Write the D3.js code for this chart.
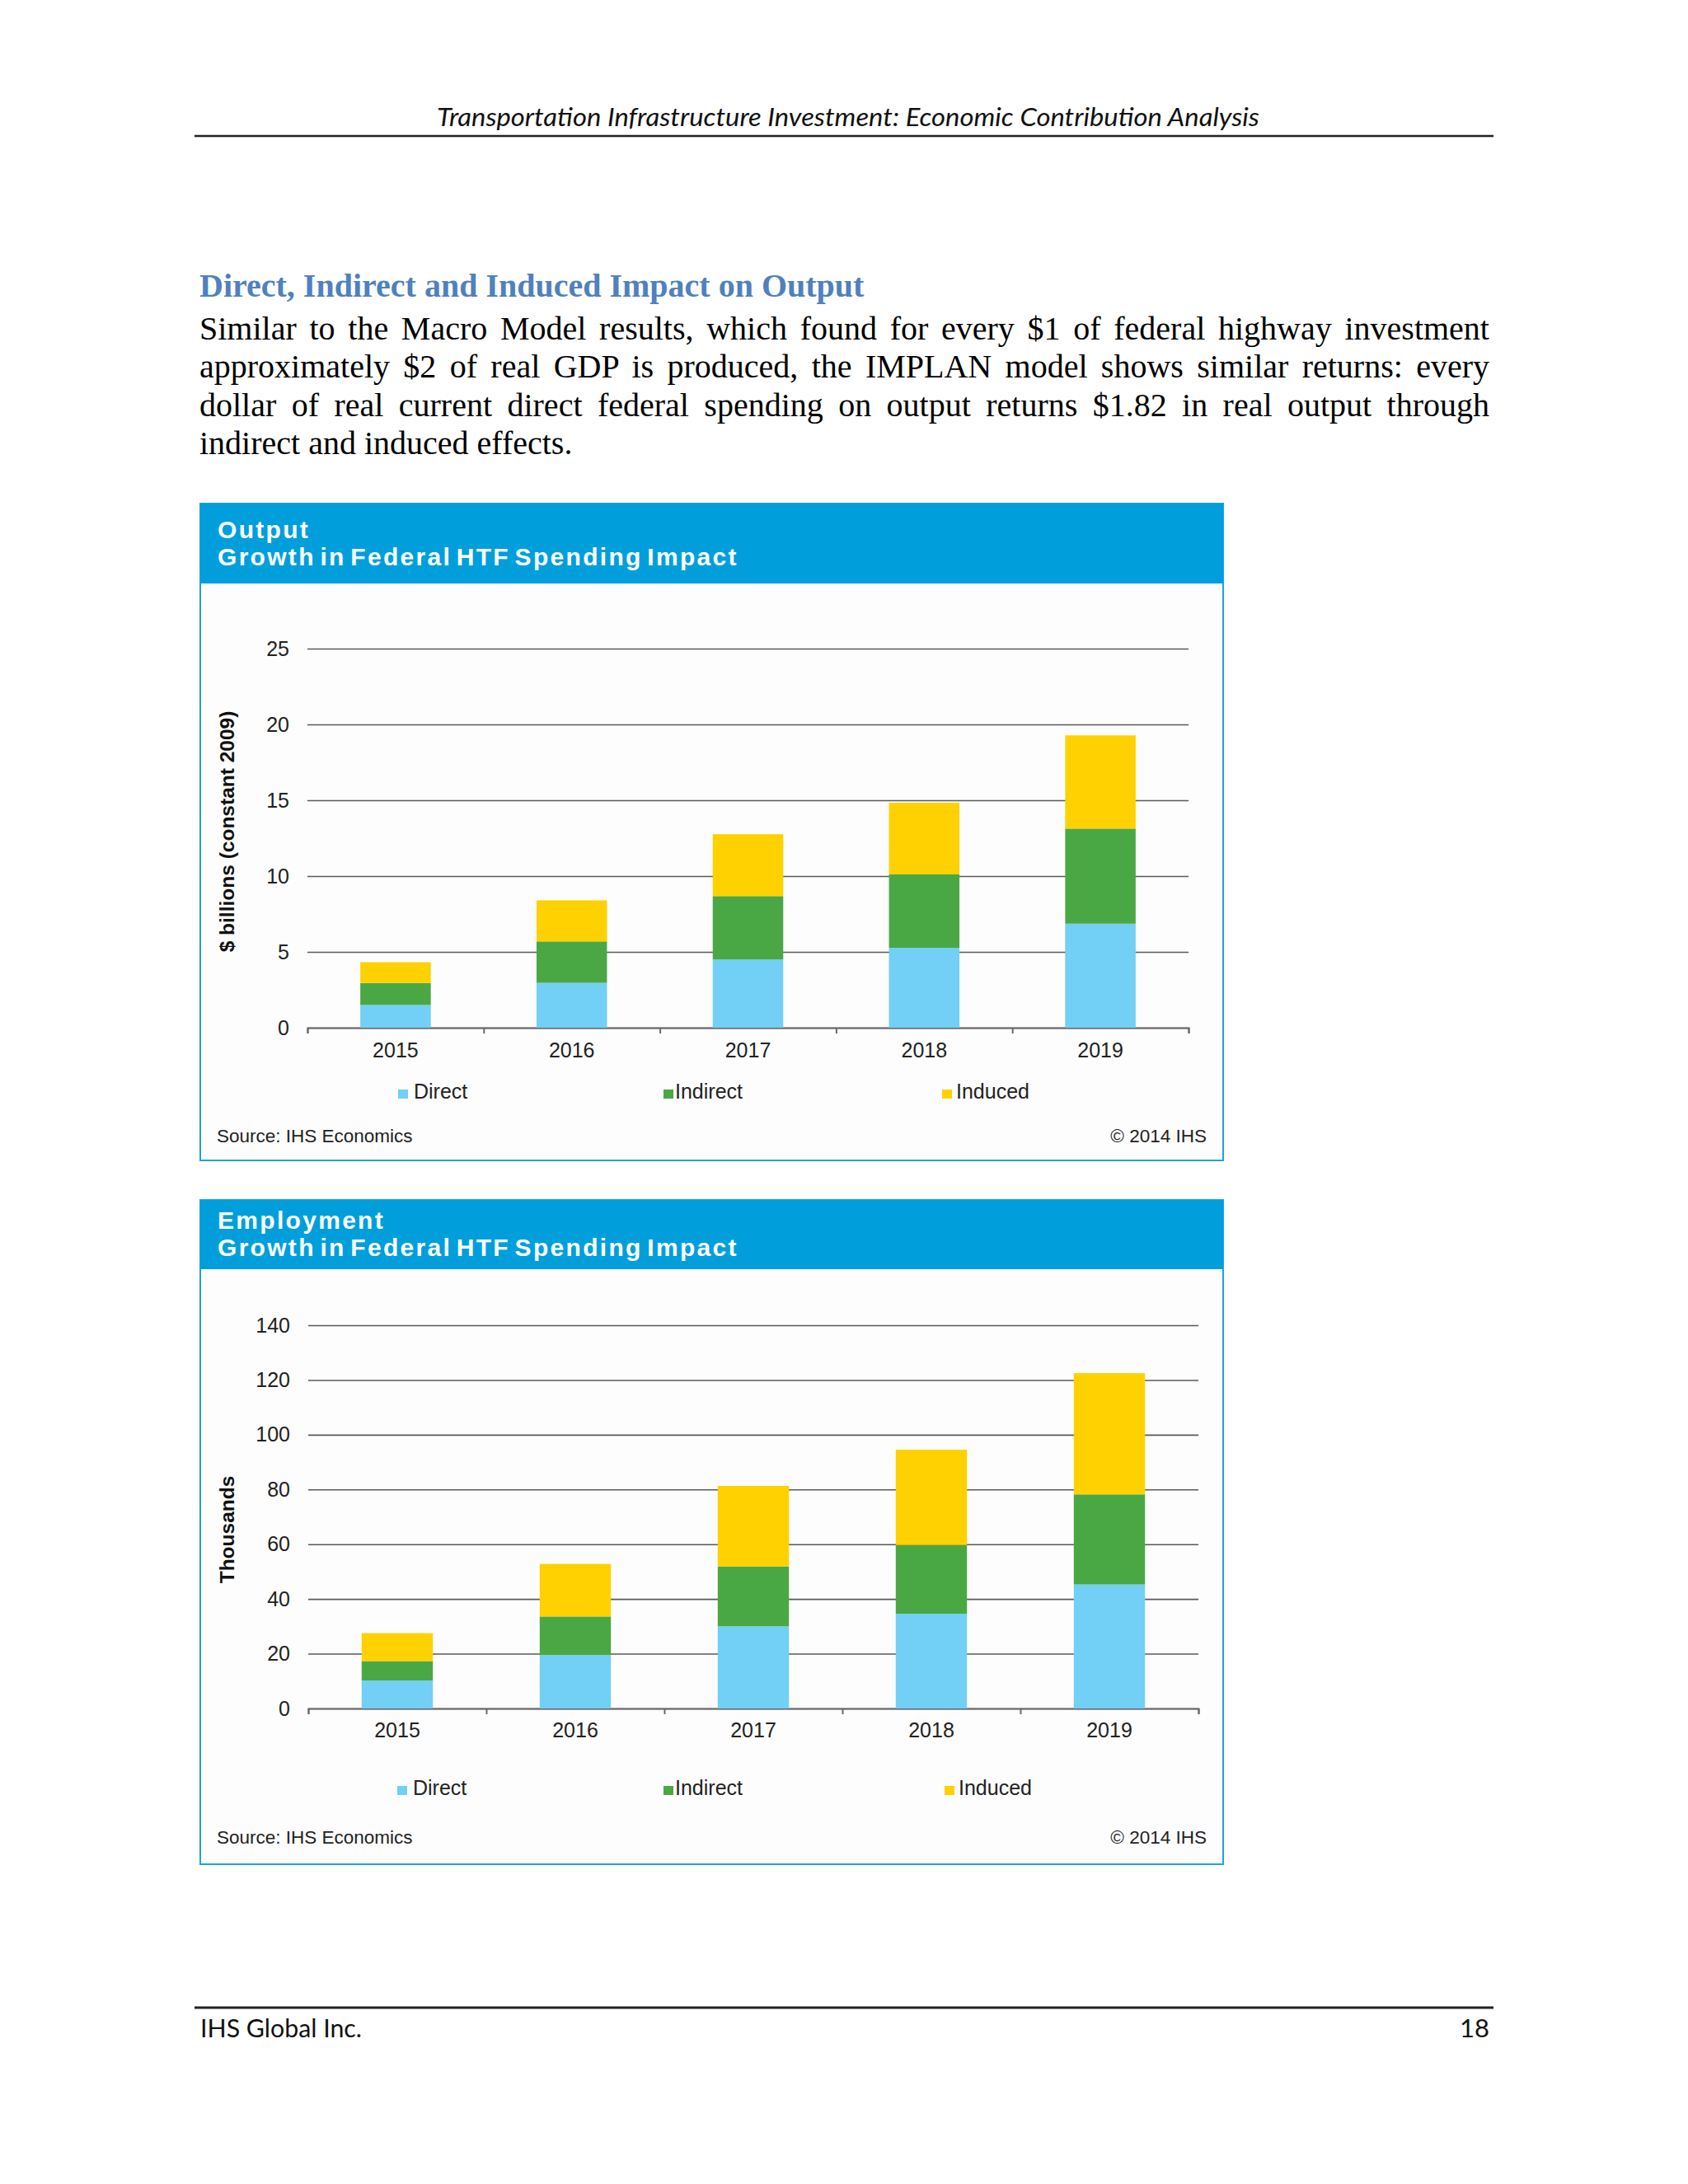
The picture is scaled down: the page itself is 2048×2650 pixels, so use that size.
<!DOCTYPE html>
<html>
<head>
<meta charset="utf-8">
<script src="https://cdn.jsdelivr.net/npm/d3@7"></script>
<style>
  body { margin: 0; background: #ffffff; }
  svg text { font-kerning: normal; }
</style>
</head>
<body>
<div id="page"></div>
<script>
// ---- data ----
var years = ["2015", "2016", "2017", "2018", "2019"];
var seriesNames = ["Direct", "Indirect", "Induced"];

var outputDirect   = [1.50, 2.96, 4.50, 5.27, 6.86];
var outputIndirect = [1.45, 2.73, 4.18, 4.84, 6.27];
var outputInduced  = [1.37, 2.71, 4.08, 4.72, 6.15];
var outputTicks    = [0, 5, 10, 15, 20, 25];

var empDirect   = [10.2, 19.5, 30.0, 34.6, 45.3];
var empIndirect = [7.1, 14.1, 21.9, 25.1, 32.9];
var empInduced  = [10.2, 19.2, 29.4, 34.8, 44.3];
var empTicks    = [0, 20, 40, 60, 80, 100, 120, 140];

var paraLines = [
    "Similar to the Macro Model results, which found for every $1 of federal highway investment",
    "approximately $2 of real GDP is produced, the IMPLAN model shows similar returns: every",
    "dollar of real current direct federal spending on output returns $1.82 in real output through",
    "indirect and induced effects."
];

var colors = ["#72CFF5", "#4AA844", "#FFD100"];
var blue = "#009FDB";

var svg = d3.select("#page").append("svg")
    .attr("width", 2048)
    .attr("height", 2650);

svg.append("rect").attr("width", 2048).attr("height", 2650).attr("fill", "#ffffff");

// ---- page header / text / footer ----
svg.append("text")
    .attr("x", 1029).attr("y", 153)
    .attr("text-anchor", "middle")
    .attr("textLength", 998).attr("lengthAdjust", "spacingAndGlyphs")
    .style("font-family", "Lato, 'Open Sans', sans-serif")
    .style("font-style", "italic")
    .style("font-size", "30px")
    .attr("fill", "#111")
    .text("Transportation Infrastructure Investment: Economic Contribution Analysis");

svg.append("line").attr("x1", 236).attr("x2", 1812).attr("y1", 165).attr("y2", 165)
    .attr("stroke", "#222").attr("stroke-width", 2.5);

svg.append("text")
    .attr("x", 242).attr("y", 360)
    .style("font-family", "'Liberation Serif', 'Times New Roman', serif")
    .style("font-weight", "bold")
    .style("font-size", "40px")
    .attr("fill", "#4F81BD")
    .text("Direct, Indirect and Induced Impact on Output");

var paraG = svg.append("g");
paraLines.forEach(function(line, i){
    var t = paraG.append("text")
        .attr("x", 242).attr("y", 412 + i * 46.3)
        .style("font-family", "'Liberation Serif', 'Times New Roman', serif")
        .style("font-size", "40px")
        .attr("fill", "#000")
        .text(line);
    if (i < paraLines.length - 1) {
        // justify like the word processor did
        var len = t.node().getComputedTextLength();
        var gaps = line.split(" ").length - 1;
        t.style("word-spacing", ((1565 - len) / gaps) + "px");
    }
});

svg.append("line").attr("x1", 236).attr("x2", 1812).attr("y1", 2436).attr("y2", 2436)
    .attr("stroke", "#222").attr("stroke-width", 3);

svg.append("text")
    .attr("x", 243).attr("y", 2472)
    .attr("textLength", 196).attr("lengthAdjust", "spacingAndGlyphs")
    .style("font-family", "Lato, 'Open Sans', sans-serif")
    .style("font-size", "31px")
    .attr("fill", "#111")
    .text("IHS Global Inc.");

svg.append("text")
    .attr("x", 1807).attr("y", 2472)
    .attr("text-anchor", "end")
    .style("font-family", "Lato, 'Open Sans', sans-serif")
    .style("font-size", "31px")
    .attr("fill", "#111")
    .text("18");

// ---- chart object ----
var StackChart = (function(){
    function StackChart(target, opt){
        this.svg = target;
        this.opt = opt;
        this.init();
    }
    return StackChart;
})();

var sc = StackChart.prototype;

sc.init = function(){
    this.g = this.svg.append("g").attr("class", "chart");
    this.setFrame();
    this.setScales();
    this.setAxes();
    this.setBars();
    this.setLegend();
};

sc.setFrame = function(){
    var o = this.opt, g = this.g;
    g.append("rect")
        .attr("x", o.box[0]).attr("y", o.box[1])
        .attr("width", o.box[2]).attr("height", o.box[3])
        .attr("fill", "#fdfdfd")
        .attr("stroke", "#1FA2DD").attr("stroke-width", 2);
    g.append("rect")
        .attr("x", o.box[0]).attr("y", o.box[1])
        .attr("width", o.box[2]).attr("height", o.band)
        .attr("fill", blue);
    o.titles.forEach(function(t, i){
        g.append("text")
            .attr("x", o.box[0] + 21).attr("y", o.titleY[i])
            .style("font-family", "'Liberation Sans', Arial, sans-serif")
            .style("font-weight", "bold")
            .style("font-size", "30px")
            .style("letter-spacing", "2.3px")
            .style("word-spacing", "-5px")
            .attr("fill", "#ffffff")
            .text(t);
    });
    g.append("text")
        .attr("x", o.box[0] + 20).attr("y", o.bottomY)
        .style("font-family", "'Liberation Sans', Arial, sans-serif")
        .style("font-size", "22.5px")
        .attr("fill", "#222")
        .text("Source: IHS Economics");
    g.append("text")
        .attr("x", o.box[0] + o.box[2] - 20).attr("y", o.bottomY)
        .attr("text-anchor", "end")
        .style("font-family", "'Liberation Sans', Arial, sans-serif")
        .style("font-size", "22.5px")
        .attr("fill", "#222")
        .text("\u00A9 2014 IHS");
};

sc.setScales = function(){
    var o = this.opt;
    this.x = d3.scaleBand()
        .domain(years)
        .range([o.plotX[0], o.plotX[1]])
        .paddingInner(0.6)
        .paddingOuter(0.3);
    this.y = d3.scaleLinear()
        .domain([0, d3.max(o.ticks)])
        .range([o.plotY[0], o.plotY[1]]);
};

sc.setAxes = function(){
    var o = this.opt, g = this.g;
    var w = o.plotX[1] - o.plotX[0];

    var yAxis = g.append("g")
        .attr("transform", "translate(" + o.plotX[0] + ",0)")
        .call(d3.axisLeft(this.y).tickValues(o.ticks).tickSize(-w).tickPadding(22));
    yAxis.select(".domain").remove();
    yAxis.selectAll(".tick line").attr("stroke", "#5a5a5a").attr("stroke-width", 1.6);
    yAxis.selectAll(".tick text")
        .style("font-family", "'Liberation Sans', Arial, sans-serif")
        .style("font-size", "25px")
        .attr("fill", "#222");

    // boundary ticks between categories
    var edge = d3.scaleLinear().domain([0, years.length]).range([o.plotX[0], o.plotX[1]]);
    var xLine = g.append("g")
        .attr("transform", "translate(0," + o.plotY[0] + ")")
        .call(d3.axisBottom(edge).ticks(years.length).tickSize(7).tickFormat("").tickSizeOuter(7));
    xLine.selectAll("path, line").attr("stroke", "#6a6a6a").attr("stroke-width", 2);

    var xAxis = g.append("g")
        .attr("transform", "translate(0," + o.plotY[0] + ")")
        .call(d3.axisBottom(this.x).tickSize(0).tickPadding(0));
    xAxis.select(".domain").remove();
    xAxis.selectAll(".tick text")
        .attr("y", o.xLabelY - o.plotY[0])
        .attr("dy", null)
        .style("font-family", "'Liberation Sans', Arial, sans-serif")
        .style("font-size", "25px")
        .attr("fill", "#222");

    g.append("text")
        .attr("transform", "translate(" + o.yLabel[0] + "," + o.yLabel[1] + ") rotate(-90)")
        .attr("text-anchor", "middle")
        .style("font-family", "'Liberation Sans', Arial, sans-serif")
        .style("font-weight", "bold")
        .style("font-size", "24.5px")
        .attr("fill", "#111")
        .text(o.yTitle);
};

sc.setBars = function(){
    var o = this.opt, chart = this;
    var rows = years.map(function(yr, i){
        var r = {year: yr};
        seriesNames.forEach(function(s, k){ r[s] = o.values[k][i]; });
        return r;
    });
    var stacked = d3.stack().keys(seriesNames)(rows);
    var g = this.g.append("g").attr("class", "bars");
    stacked.forEach(function(layer, k){
        g.selectAll(".bar-" + k)
            .data(layer)
            .enter().append("rect")
            .attr("x", function(d){ return chart.x(d.data.year); })
            .attr("width", chart.x.bandwidth())
            .attr("y", function(d){ return chart.y(d[1]); })
            .attr("height", function(d){ return chart.y(d[0]) - chart.y(d[1]); })
            .attr("fill", colors[k]);
    });
};

sc.setLegend = function(){
    var o = this.opt, g = this.g;
    var textGap = [19, 14, 17];
    seriesNames.forEach(function(s, k){
        g.append("rect")
            .attr("x", o.legendX[k]).attr("y", o.legendY - 11)
            .attr("width", 12).attr("height", 11)
            .attr("fill", colors[k]);
        g.append("text")
            .attr("x", o.legendX[k] + textGap[k]).attr("y", o.legendY)
            .style("font-family", "'Liberation Sans', Arial, sans-serif")
            .style("font-size", "25px")
            .attr("fill", "#222")
            .text(s);
    });
};

new StackChart(svg, {
    box: [243, 611, 1241, 797],
    band: 97,
    titles: ["Output", "Growth in Federal HTF Spending Impact"],
    titleY: [653, 686],
    plotX: [373, 1442],
    plotY: [1247, 787],
    ticks: outputTicks,
    values: [outputDirect, outputIndirect, outputInduced],
    yTitle: "$ billions (constant 2009)",
    yLabel: [284, 1009],
    xLabelY: 1283,
    legendX: [483, 805, 1143],
    legendY: 1333,
    bottomY: 1386
});

new StackChart(svg, {
    box: [243, 1456, 1241, 806],
    band: 84,
    titles: ["Employment", "Growth in Federal HTF Spending Impact"],
    titleY: [1491, 1524],
    plotX: [374, 1454],
    plotY: [2073, 1608],
    ticks: empTicks,
    values: [empDirect, empIndirect, empInduced],
    yTitle: "Thousands",
    yLabel: [284, 1856],
    xLabelY: 2108,
    legendX: [482, 805, 1146],
    legendY: 2178,
    bottomY: 2237
});
</script>
</body>
</html>
